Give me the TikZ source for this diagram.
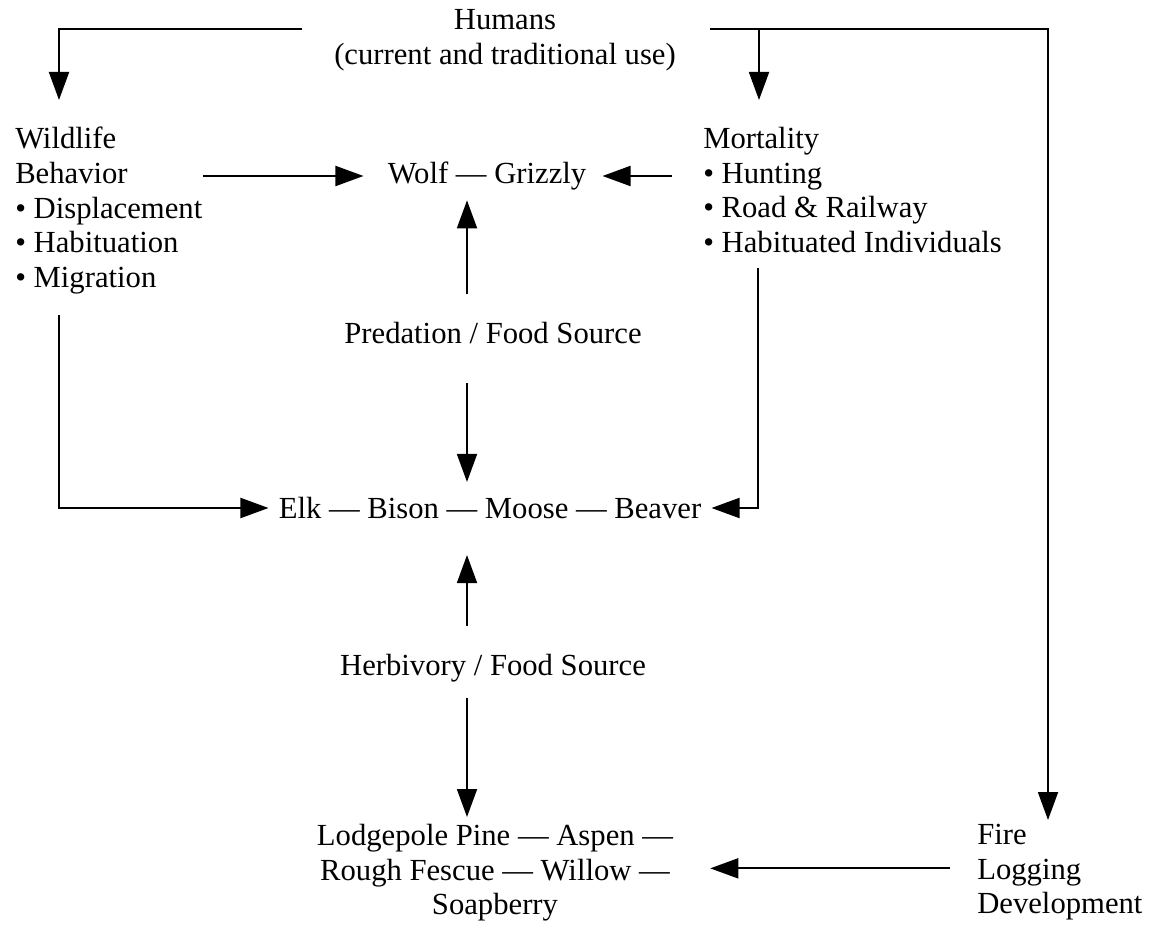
\documentclass[tikz,border=0pt]{standalone}
\usepackage{fontspec}
\setmainfont{Liberation Serif}
\usetikzlibrary{arrows.meta,calc}

\tikzset{
  conn/.style={line width=1.4pt, -{Triangle[length=21pt,width=15pt]}},
  lbl/.style={inner sep=0pt, font=\fontsize{23}{26}\selectfont},
}

\begin{document}
\begin{tikzpicture}[x=0.75pt,y=0.75pt,yscale=-1,xscale=1]
\path[use as bounding box] (0,0) rectangle (1152,944);

% Text Node
\node (humans) at (505,40) [lbl, align=center] {Humans\\(current and traditional use)};
% Text Node
\node (wild) at (15,127) [lbl, anchor=north west, align=left] {Wildlife\\Behavior\\\textbullet\ Displacement\\\textbullet\ Habituation\\\textbullet\ Migration};
% Text Node
\node (mort) at (703,127) [lbl, anchor=north west, align=left] {Mortality\\\textbullet\ Hunting\\\textbullet\ Road \& Railway\\\textbullet\ Habituated Individuals};
% Text Node
\node (wolf) at (487,176) [lbl] {Wolf --- Grizzly};
% Text Node
\node (pred) at (493,333) [lbl] {Predation / Food Source};
% Text Node
\node (elk) at (490,508) [lbl] {Elk --- Bison --- Moose --- Beaver};
% Text Node
\node (herb) at (493,668) [lbl] {Herbivory / Food Source};
% Text Node
\node (plants) at (495,824) [lbl, anchor=north, align=center] {Lodgepole Pine --- Aspen ---\\Rough Fescue --- Willow ---\\Soapberry};
% Text Node
\node (fire) at (977,824) [lbl, anchor=north west, align=left] {Fire\\Logging\\Development};

\coordinate (hl) at (302,29);
\coordinate (hr) at (710,29);
\coordinate (spine) at (467,0);
\coordinate (mt) at ($(mort.north west)+(56,-27)$);

%Elbow Lines from Humans
\draw[conn] (hl) -| ($(wild.north west)+(44,-27)$);
\draw[conn] (hr -| mt) -- (mt);
\draw[conn] (hr) -| ($(fire.north west)+(71,-4)$);
%Straight Lines into Wolf -- Grizzly
\draw[conn] (wild.east |- wolf) -- ($(wolf.west)+(-24,0)$);
\draw[conn] ($(mort.west |- wolf)+(-31,0)$) -- ($(wolf.east)+(16,0)$);
\draw[conn] ($(spine |- pred.north)+(0,-28)$) -- ($(spine |- wolf.south)+(0,10)$);
%Straight Lines into Elk -- Beaver
\draw[conn] ($(spine |- pred.south)+(0,39)$) -- ($(spine |- elk.north)+(0,-15)$);
\draw[conn] ($(spine |- herb.north)+(0,-28)$) -- ($(spine |- elk.south)+(0,36)$);
\draw[conn] ($(wild.south west)+(44,21)$) |- ($(elk.west)+(-10,0)$);
\draw[conn] ($(mort.south west)+(55,15)$) |- ($(elk.east)+(10,0)$);
%Straight Lines into plants
\draw[conn] ($(spine |- herb.south)+(0,16)$) -- ($(spine |- plants.north)+(0,-7)$);
\draw[conn] ($(fire.west)+(-27,-4)$) -- ($(plants.east |- fire.west)+(37,-4)$);

\end{tikzpicture}
\end{document}
